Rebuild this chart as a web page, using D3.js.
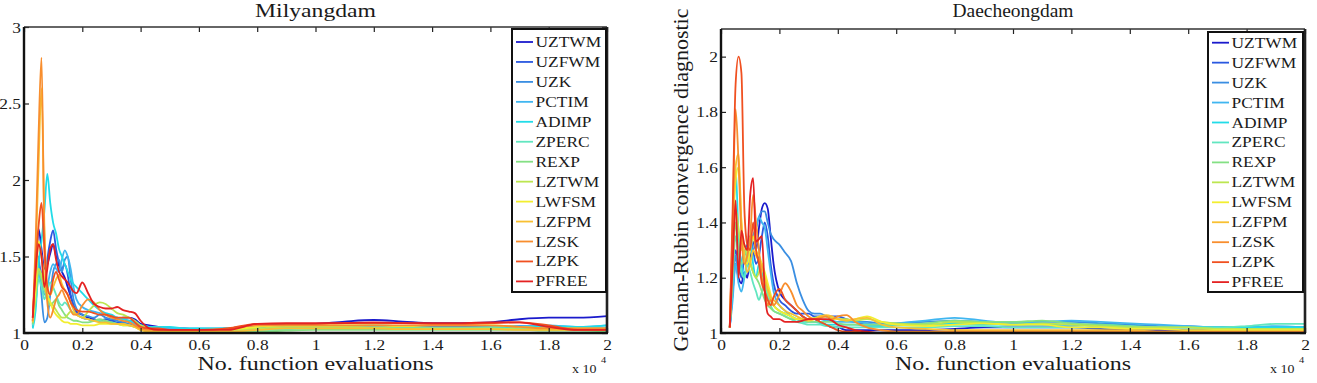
<!DOCTYPE html>
<html><head><meta charset="utf-8">
<script src="https://cdn.jsdelivr.net/npm/d3@7"></script>
<style>
body{margin:0;background:#fff}
svg{display:block}
text{font-family:"Liberation Serif","Times New Roman",serif;fill:#1a1a1a}
</style>
</head><body>
<svg id="c" width="1317" height="383"></svg>
<script>
// ---------------- DATA ----------------
// x values in units of 10^4 function evaluations
const xGrid = [0.03,0.04,0.05,0.06,0.07,0.08,0.09,0.10,0.11,0.12,0.13,0.14,0.15,0.16,0.17,0.18,
  0.20,0.22,0.24,0.26,0.28,0.30,0.32,0.34,0.36,0.38,0.40,0.43,0.46,0.50,0.55,0.60,
  0.70,0.80,0.90,1.0,1.1,1.2,1.3,1.4,1.5,1.6,1.7,1.8,1.9,2.0];

const params = ["UZTWM","UZFWM","UZK","PCTIM","ADIMP","ZPERC","REXP","LZTWM","LWFSM","LZFPM","LZSK","LZPK","PFREE"];
const colors = ["#1a1acc","#2a58e0","#3a8ee2","#40b6f0","#22dce8","#62e6c0","#84e084","#bce650","#f2ee30","#f8c032","#f88e2e","#f05020","#e42222"];

const xTicks = [0,0.2,0.4,0.6,0.8,1,1.2,1.4,1.6,1.8,2];
const milyangYTicks = [1,1.5,2,2.5,3];
const daecheongYTicks = [1,1.2,1.4,1.6,1.8,2];

const titles = ["Milyangdam","Daecheongdam"];
const xLabel = "No. function evaluations";
const yLabel = "Gelman-Rubin convergence diagnostic";

// Milyangdam series
const mil_UZTWM = [1.08,1.35,1.68,1.55,1.42,1.45,1.52,1.58,1.50,1.44,1.40,1.36,1.30,1.24,1.18,1.14,1.12,1.10,1.09,1.08,1.07,1.08,1.09,1.10,1.10,1.09,1.06,1.05,1.04,1.03,1.03,1.02,1.03,1.05,1.055,1.06,1.075,1.085,1.075,1.065,1.065,1.07,1.09,1.10,1.10,1.11];
const mil_UZFWM = [1.06,1.25,1.45,1.38,1.30,1.48,1.60,1.67,1.55,1.46,1.42,1.45,1.38,1.25,1.18,1.13,1.10,1.09,1.08,1.08,1.09,1.08,1.07,1.07,1.08,1.08,1.05,1.04,1.03,1.02,1.02,1.02,1.02,1.03,1.04,1.04,1.045,1.05,1.045,1.04,1.04,1.04,1.045,1.04,1.035,1.03];
const mil_UZK   = [1.05,1.30,1.50,1.25,1.07,1.10,1.25,1.40,1.45,1.48,1.40,1.48,1.50,1.35,1.22,1.16,1.12,1.11,1.10,1.12,1.10,1.09,1.08,1.07,1.06,1.05,1.04,1.04,1.03,1.03,1.02,1.02,1.03,1.03,1.03,1.035,1.04,1.04,1.035,1.03,1.03,1.03,1.03,1.035,1.03,1.03];
const mil_PCTIM = [1.04,1.20,1.40,1.32,1.25,1.30,1.40,1.45,1.42,1.40,1.48,1.54,1.50,1.42,1.30,1.22,1.17,1.15,1.14,1.13,1.12,1.11,1.10,1.09,1.08,1.06,1.05,1.04,1.04,1.03,1.03,1.03,1.03,1.03,1.035,1.04,1.04,1.04,1.04,1.035,1.035,1.04,1.045,1.05,1.04,1.05];
const mil_ADIMP = [1.03,1.15,1.45,1.60,1.80,2.04,1.85,1.72,1.65,1.55,1.50,1.45,1.40,1.35,1.32,1.30,1.26,1.22,1.18,1.15,1.13,1.12,1.10,1.09,1.08,1.07,1.05,1.04,1.04,1.04,1.03,1.03,1.03,1.03,1.03,1.03,1.03,1.035,1.035,1.03,1.03,1.035,1.04,1.045,1.04,1.05];
const mil_ZPERC = [1.05,1.20,1.35,1.30,1.22,1.28,1.33,1.30,1.25,1.20,1.18,1.20,1.18,1.15,1.13,1.12,1.10,1.09,1.08,1.08,1.07,1.07,1.06,1.06,1.05,1.04,1.03,1.03,1.02,1.02,1.02,1.02,1.02,1.02,1.025,1.03,1.03,1.03,1.03,1.03,1.03,1.03,1.025,1.02,1.02,1.02];
const mil_REXP  = [1.06,1.25,1.40,1.35,1.28,1.22,1.18,1.20,1.22,1.18,1.15,1.12,1.10,1.09,1.08,1.08,1.07,1.07,1.08,1.09,1.08,1.07,1.06,1.05,1.05,1.04,1.03,1.02,1.02,1.02,1.01,1.01,1.01,1.01,1.015,1.02,1.02,1.02,1.02,1.02,1.02,1.02,1.02,1.015,1.015,1.01];
const mil_LZTWM = [1.07,1.28,1.42,1.38,1.30,1.25,1.20,1.18,1.15,1.12,1.10,1.10,1.12,1.14,1.13,1.12,1.10,1.14,1.18,1.20,1.19,1.16,1.13,1.12,1.10,1.08,1.05,1.03,1.02,1.02,1.02,1.02,1.02,1.03,1.04,1.04,1.04,1.035,1.03,1.03,1.03,1.03,1.025,1.02,1.02,1.02];
const mil_LWFSM = [1.08,1.30,1.60,1.50,1.35,1.25,1.20,1.15,1.12,1.10,1.08,1.07,1.07,1.06,1.06,1.06,1.05,1.05,1.05,1.06,1.06,1.06,1.06,1.05,1.05,1.04,1.02,1.01,1.01,1.01,1.01,1.01,1.02,1.04,1.05,1.05,1.05,1.05,1.045,1.05,1.05,1.05,1.04,1.03,1.03,1.03];
const mil_LZFPM = [1.07,1.50,2.10,2.60,1.70,1.30,1.25,1.30,1.35,1.38,1.32,1.28,1.25,1.20,1.15,1.12,1.10,1.09,1.08,1.07,1.07,1.06,1.06,1.06,1.05,1.04,1.02,1.01,1.01,1.01,1.01,1.01,1.01,1.02,1.03,1.03,1.03,1.03,1.025,1.025,1.025,1.025,1.02,1.02,1.02,1.02];
const mil_LZSK  = [1.08,1.60,2.30,2.80,1.60,1.20,1.10,1.15,1.22,1.25,1.28,1.24,1.20,1.15,1.12,1.12,1.18,1.22,1.20,1.15,1.12,1.10,1.09,1.08,1.07,1.05,1.03,1.02,1.02,1.02,1.02,1.02,1.03,1.05,1.05,1.05,1.05,1.05,1.05,1.05,1.05,1.05,1.04,1.03,1.03,1.03];
const mil_LZPK  = [1.10,1.45,1.70,1.85,1.55,1.30,1.25,1.35,1.40,1.35,1.30,1.28,1.25,1.20,1.17,1.15,1.14,1.14,1.13,1.12,1.12,1.11,1.10,1.10,1.10,1.07,1.04,1.03,1.03,1.02,1.02,1.02,1.03,1.06,1.06,1.06,1.065,1.065,1.065,1.06,1.06,1.065,1.07,1.05,1.02,1.02];
const mil_PFREE = [1.10,1.40,1.58,1.50,1.30,1.42,1.55,1.58,1.48,1.40,1.37,1.35,1.33,1.30,1.27,1.26,1.33,1.26,1.19,1.17,1.16,1.16,1.17,1.15,1.14,1.13,1.08,1.03,1.02,1.02,1.02,1.02,1.02,1.06,1.065,1.065,1.065,1.07,1.065,1.065,1.065,1.07,1.07,1.04,1.02,1.02];

// Daecheongdam series
const dae_UZTWM = [1.02,1.15,1.25,1.20,1.18,1.22,1.20,1.28,1.33,1.30,1.38,1.45,1.47,1.45,1.35,1.25,1.15,1.12,1.10,1.08,1.06,1.05,1.05,1.04,1.03,1.02,1.02,1.01,1.01,1.01,1.01,1.01,1.01,1.015,1.02,1.02,1.02,1.02,1.015,1.01,1.01,1.01,1.01,1.01,1.01,1.01];
const dae_UZFWM = [1.02,1.18,1.30,1.25,1.20,1.28,1.32,1.35,1.30,1.25,1.28,1.35,1.40,1.35,1.25,1.18,1.12,1.10,1.08,1.07,1.07,1.07,1.06,1.06,1.06,1.06,1.06,1.05,1.04,1.03,1.03,1.03,1.03,1.035,1.035,1.03,1.03,1.03,1.025,1.02,1.02,1.02,1.02,1.02,1.02,1.02];
const dae_UZK   = [1.02,1.15,1.28,1.22,1.25,1.30,1.28,1.30,1.35,1.38,1.42,1.44,1.44,1.40,1.36,1.34,1.32,1.29,1.26,1.18,1.12,1.08,1.07,1.07,1.06,1.05,1.05,1.045,1.04,1.04,1.035,1.035,1.04,1.045,1.04,1.04,1.04,1.04,1.035,1.03,1.025,1.025,1.02,1.02,1.02,1.02];
const dae_PCTIM = [1.02,1.12,1.25,1.18,1.15,1.20,1.25,1.30,1.35,1.38,1.42,1.40,1.38,1.30,1.22,1.15,1.10,1.08,1.06,1.05,1.05,1.05,1.05,1.05,1.045,1.045,1.04,1.04,1.04,1.035,1.03,1.035,1.045,1.055,1.045,1.035,1.04,1.045,1.04,1.035,1.03,1.025,1.02,1.02,1.025,1.02];
const dae_ADIMP = [1.02,1.30,1.60,1.35,1.25,1.20,1.30,1.35,1.25,1.20,1.25,1.22,1.18,1.15,1.12,1.10,1.08,1.07,1.06,1.05,1.04,1.04,1.04,1.035,1.03,1.03,1.03,1.03,1.03,1.025,1.025,1.03,1.03,1.035,1.03,1.03,1.03,1.03,1.03,1.025,1.02,1.02,1.02,1.02,1.02,1.02];
const dae_ZPERC = [1.02,1.20,1.35,1.28,1.22,1.20,1.25,1.22,1.18,1.15,1.12,1.15,1.17,1.13,1.10,1.08,1.07,1.06,1.05,1.04,1.035,1.03,1.03,1.03,1.025,1.025,1.02,1.02,1.02,1.02,1.02,1.02,1.02,1.025,1.025,1.02,1.02,1.02,1.02,1.02,1.02,1.02,1.02,1.025,1.033,1.033];
const dae_REXP  = [1.02,1.22,1.40,1.30,1.25,1.28,1.30,1.26,1.22,1.20,1.18,1.15,1.12,1.10,1.09,1.08,1.07,1.06,1.05,1.05,1.045,1.04,1.04,1.04,1.04,1.04,1.035,1.03,1.03,1.03,1.03,1.03,1.035,1.045,1.04,1.04,1.045,1.035,1.03,1.025,1.02,1.02,1.015,1.015,1.015,1.015];
const dae_LZTWM = [1.02,1.25,1.45,1.38,1.30,1.32,1.28,1.25,1.22,1.20,1.22,1.25,1.20,1.15,1.12,1.10,1.08,1.07,1.06,1.05,1.05,1.05,1.055,1.06,1.06,1.055,1.05,1.05,1.045,1.05,1.04,1.035,1.03,1.04,1.035,1.03,1.035,1.03,1.025,1.02,1.02,1.02,1.015,1.015,1.015,1.015];
const dae_LWFSM = [1.02,1.35,1.55,1.60,1.40,1.28,1.25,1.30,1.35,1.30,1.28,1.25,1.22,1.18,1.14,1.10,1.08,1.07,1.06,1.05,1.05,1.045,1.05,1.06,1.06,1.05,1.05,1.045,1.05,1.06,1.04,1.03,1.025,1.03,1.035,1.03,1.03,1.02,1.02,1.015,1.015,1.01,1.01,1.01,1.01,1.01];
const dae_LZFPM = [1.02,1.35,1.60,1.65,1.40,1.28,1.22,1.25,1.30,1.28,1.26,1.24,1.20,1.16,1.13,1.12,1.10,1.08,1.07,1.06,1.05,1.045,1.05,1.06,1.065,1.06,1.05,1.045,1.05,1.055,1.03,1.02,1.015,1.01,1.01,1.01,1.01,1.01,1.01,1.01,1.005,1.005,1.005,1.005,1.005,1.005];
const dae_LZSK  = [1.02,1.40,1.81,1.62,1.35,1.25,1.28,1.35,1.50,1.40,1.30,1.20,1.15,1.10,1.12,1.10,1.14,1.18,1.15,1.10,1.08,1.06,1.05,1.055,1.06,1.05,1.06,1.065,1.04,1.02,1.01,1.005,1.005,1.005,1.005,1.005,1.005,1.005,1.005,1.005,1.005,1.005,1.005,1.005,1.005,1.005];
const dae_LZPK  = [1.02,1.45,1.90,2.00,1.94,1.45,1.32,1.30,1.40,1.30,1.25,1.18,1.15,1.12,1.10,1.13,1.16,1.12,1.10,1.08,1.06,1.05,1.05,1.04,1.03,1.02,1.01,1.005,1.005,1.0,1.0,1.0,1.0,1.0,1.0,1.0,1.0,1.0,1.0,1.0,1.0,1.0,1.0,1.0,1.0,1.0];
const dae_PFREE = [1.02,1.25,1.48,1.20,1.37,1.32,1.30,1.50,1.56,1.33,1.34,1.35,1.15,1.07,1.06,1.05,1.05,1.04,1.04,1.04,1.045,1.05,1.05,1.05,1.05,1.045,1.03,1.02,1.01,1.005,1.0,1.0,1.0,1.0,1.0,1.0,1.0,1.0,1.0,1.0,1.0,1.0,1.0,1.0,1.0,1.0];

const milSeries = [mil_UZTWM,mil_UZFWM,mil_UZK,mil_PCTIM,mil_ADIMP,mil_ZPERC,mil_REXP,mil_LZTWM,mil_LWFSM,mil_LZFPM,mil_LZSK,mil_LZPK,mil_PFREE];
const daeSeries = [dae_UZTWM,dae_UZFWM,dae_UZK,dae_PCTIM,dae_ADIMP,dae_ZPERC,dae_REXP,dae_LZTWM,dae_LWFSM,dae_LZFPM,dae_LZSK,dae_LZPK,dae_PFREE];

// ---------------- DRAWING ----------------
const SX = 1.16; // horizontal glyph stretch seen in the reference
const svg = d3.select("#c");

function stretchedText(g, x, y, str, size, anchor) {
  return g.append("text")
    .attr("transform", `translate(${x},${y}) scale(${SX},1)`)
    .attr("text-anchor", anchor || "start")
    .style("font-size", size + "px")
    .text(str);
}

function panel(cfg) {
  const x = d3.scaleLinear().domain([0, 2]).range([cfg.left, cfg.right]);
  const y = d3.scaleLinear().domain(cfg.yDomain).range([cfg.bottom, cfg.top]);
  const g = svg.append("g");
  const clipId = "clip" + cfg.id;
  g.append("clipPath").attr("id", clipId).append("rect")
    .attr("x", cfg.left).attr("y", cfg.top)
    .attr("width", cfg.right - cfg.left).attr("height", cfg.bottom - cfg.top);

  // lines
  const line = d3.line().x((d, i) => x(xGrid[i])).y(d => y(d)).curve(d3.curveMonotoneX);
  const lg = g.append("g").attr("clip-path", `url(#${clipId})`);
  cfg.series.forEach((s, k) => {
    lg.append("path").attr("d", line(s)).attr("fill", "none")
      .attr("stroke", colors[k]).attr("stroke-width", 1.8)
      .attr("stroke-linejoin", "round");
  });

  const fmt = d => d3.format("~g")(d);
  // bottom axis
  const bx = g.append("g").attr("transform", `translate(0,${cfg.bottom})`)
    .call(d3.axisBottom(x).tickValues(xTicks).tickSize(-5).tickFormat(fmt).tickPadding(0));
  // top axis
  g.append("g").attr("transform", `translate(0,${cfg.top})`)
    .call(d3.axisTop(x).tickValues(xTicks).tickSize(-5).tickFormat(""));
  // left axis
  const ly = g.append("g").attr("transform", `translate(${cfg.left},0)`)
    .call(d3.axisLeft(y).tickValues(cfg.yTicks).tickSize(-5).tickFormat(fmt));
  // right axis
  g.append("g").attr("transform", `translate(${cfg.right},0)`)
    .call(d3.axisRight(y).tickValues(cfg.yTicks).tickSize(-5).tickFormat(""));

  g.selectAll(".domain").remove();
  g.selectAll(".tick line").attr("stroke", "#222").attr("stroke-width", 1.2);
  bx.selectAll(".tick text").attr("y", null).attr("dy", null)
    .attr("transform", `translate(0,17) scale(${SX},1)`)
    .style("font-size", "15px").style("font-family", '"Liberation Serif",serif').attr("fill", "#1a1a1a");
  ly.selectAll(".tick text").attr("x", null).attr("dy", null)
    .attr("transform", `translate(-3,5) scale(${SX},1)`)
    .style("font-size", "15px").style("font-family", '"Liberation Serif",serif').attr("fill", "#1a1a1a");

  // frame
  g.append("line").attr("x1", cfg.left).attr("x2", cfg.right).attr("y1", cfg.top).attr("y2", cfg.top)
    .attr("stroke", "#333").attr("stroke-width", 1.5);
  g.append("line").attr("x1", cfg.right).attr("x2", cfg.right).attr("y1", cfg.top).attr("y2", cfg.bottom)
    .attr("stroke", "#222").attr("stroke-width", 2.6);
  g.append("line").attr("x1", cfg.left).attr("x2", cfg.left).attr("y1", cfg.top).attr("y2", cfg.bottom + 1)
    .attr("stroke", "#111").attr("stroke-width", 2.4);
  g.append("line").attr("x1", cfg.left - 1).attr("x2", cfg.right + 1).attr("y1", cfg.bottom).attr("y2", cfg.bottom)
    .attr("stroke", "#111").attr("stroke-width", 2.6);

  // legend
  const L = cfg.legend;
  g.append("rect").attr("x", L.x0).attr("y", L.y0).attr("width", L.x1 - L.x0).attr("height", L.y1 - L.y0)
    .attr("fill", "#fff").attr("stroke", "#111").attr("stroke-width", 2);
  params.forEach((p, k) => {
    const ry = L.firstY + k * 19.95;
    g.append("line").attr("x1", L.x0 + 4).attr("x2", L.x0 + 21).attr("y1", ry).attr("y2", ry)
      .attr("stroke", colors[k]).attr("stroke-width", 1.8);
    stretchedText(g, L.x0 + 23.5, ry + 5, p, 15, "start");
  });

  // title, x label, multiplier
  const cx = (cfg.left + cfg.right) / 2;
  g.append("text").attr("x", cx).attr("y", 17).attr("text-anchor", "middle")
    .style("font-size", "19px").attr("textLength", 121).attr("lengthAdjust", "spacingAndGlyphs")
    .text(cfg.title);
  g.append("text").attr("x", cx).attr("y", 370).attr("text-anchor", "middle")
    .style("font-size", "19px").attr("textLength", 236).attr("lengthAdjust", "spacingAndGlyphs")
    .text(xLabel);
  stretchedText(g, cfg.right - 35, 373, "x 10", 12, "start");
  stretchedText(g, cfg.right - 6, 363, "4", 9, "start");

  if (cfg.yLabel) {
    g.append("text").attr("transform", `translate(688,${(cfg.top + cfg.bottom) / 2 - 1}) rotate(-90)`)
      .attr("text-anchor", "middle").style("font-size", "21px")
      .attr("textLength", 343).attr("lengthAdjust", "spacingAndGlyphs")
      .text(cfg.yLabel);
  }
}

panel({id: 0, left: 24, right: 607, top: 27, bottom: 333, yDomain: [1, 3], yTicks: milyangYTicks,
  title: titles[0], series: milSeries, legend: {x0: 512, y0: 29, x1: 606, y1: 292, firstY: 42}});
panel({id: 1, left: 721, right: 1305, top: 29, bottom: 333, yDomain: [1, 2.1], yTicks: daecheongYTicks,
  title: titles[1], series: daeSeries, legend: {x0: 1208, y0: 32, x1: 1303, y1: 292, firstY: 42.7}, yLabel: yLabel});
</script>
</body></html>
